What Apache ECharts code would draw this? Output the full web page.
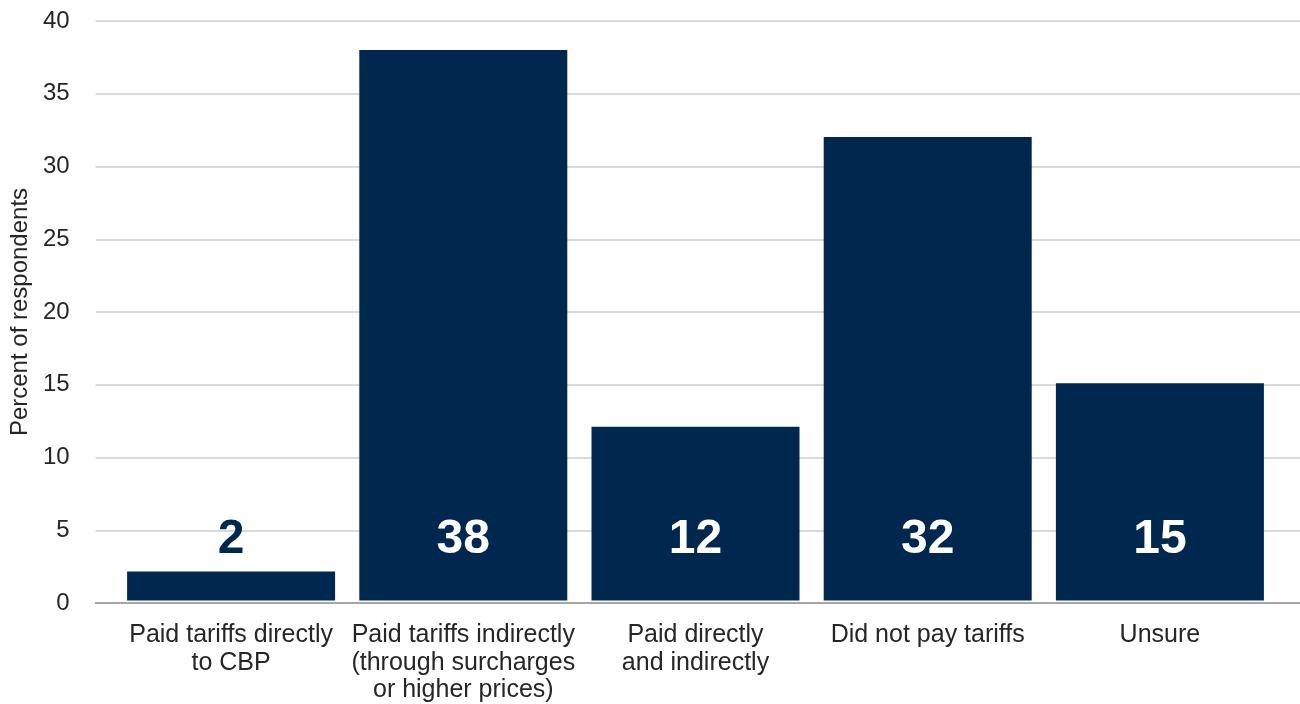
<!DOCTYPE html>
<html>
<head>
<meta charset="utf-8">
<script src="https://cdn.jsdelivr.net/npm/echarts@6/dist/echarts.min.js"></script>
<style>html,body{margin:0;padding:0;background:#fff}#c{width:1300px;height:704px}</style>
</head>
<body>
<div id="c"></div>
<script>
const categories = [
  "Paid tariffs directly\nto CBP",
  "Paid tariffs indirectly\n(through surcharges\nor higher prices)",
  "Paid directly\nand indirectly",
  "Did not pay tariffs",
  "Unsure"
];
const values = [2, 38, 12, 32, 15];
const yTicks = { min: 0, max: 40, interval: 5 };

const BAR = '#00284f';
const FONT = '"Liberation Sans", Arial, sans-serif';

const chart = echarts.init(document.getElementById('c'));
chart.setOption({
  animation: false,
  backgroundColor: '#fff',
  grid: [
    { left: 92, right: 0, top: 21, bottom: 101 },
    { left: 115, right: 24, top: 21, bottom: 101 }
  ],
  xAxis: [
    { type: 'value', gridIndex: 0, min: 0, max: 1, axisLabel: { show: false }, axisTick: { show: false },
      splitLine: { show: false }, axisLine: { show: true, onZero: false, lineStyle: { color: '#a6a6a6', width: 2 } } },
    { type: 'category', gridIndex: 1, data: categories, axisLine: { show: false }, axisTick: { show: false },
      axisLabel: { interval: 0, color: '#262626', fontSize: 25, fontFamily: FONT, lineHeight: 27.5, margin: 21 } }
  ],
  yAxis: [
    { type: 'value', gridIndex: 0, min: yTicks.min, max: yTicks.max, interval: yTicks.interval,
      name: 'Percent of respondents', nameLocation: 'middle', nameGap: 63,
      nameTextStyle: { color: '#262626', fontSize: 24, fontFamily: FONT },
      axisLine: { show: false }, axisTick: { show: false },
      axisLabel: { color: '#262626', fontSize: 24, fontFamily: FONT, margin: 26 },
      splitLine: { lineStyle: { color: '#d9d9d9', width: 2 } } },
    { type: 'value', gridIndex: 1, min: yTicks.min, max: yTicks.max, interval: yTicks.interval, show: false,
      splitLine: { show: false } }
  ],
  series: [{
    type: 'bar',
    xAxisIndex: 1, yAxisIndex: 1,
    data: values.map((v, i) => ({
      value: v,
      label: { color: i === 0 ? BAR : '#ffffff' }
    })),
    barWidth: 208,
    itemStyle: { color: BAR },
    label: {
      show: true, position: 'insideBottom', distance: 37,
      fontSize: 48, fontWeight: 'bold', fontFamily: FONT
    }
  }]
});
</script>
</body>
</html>
